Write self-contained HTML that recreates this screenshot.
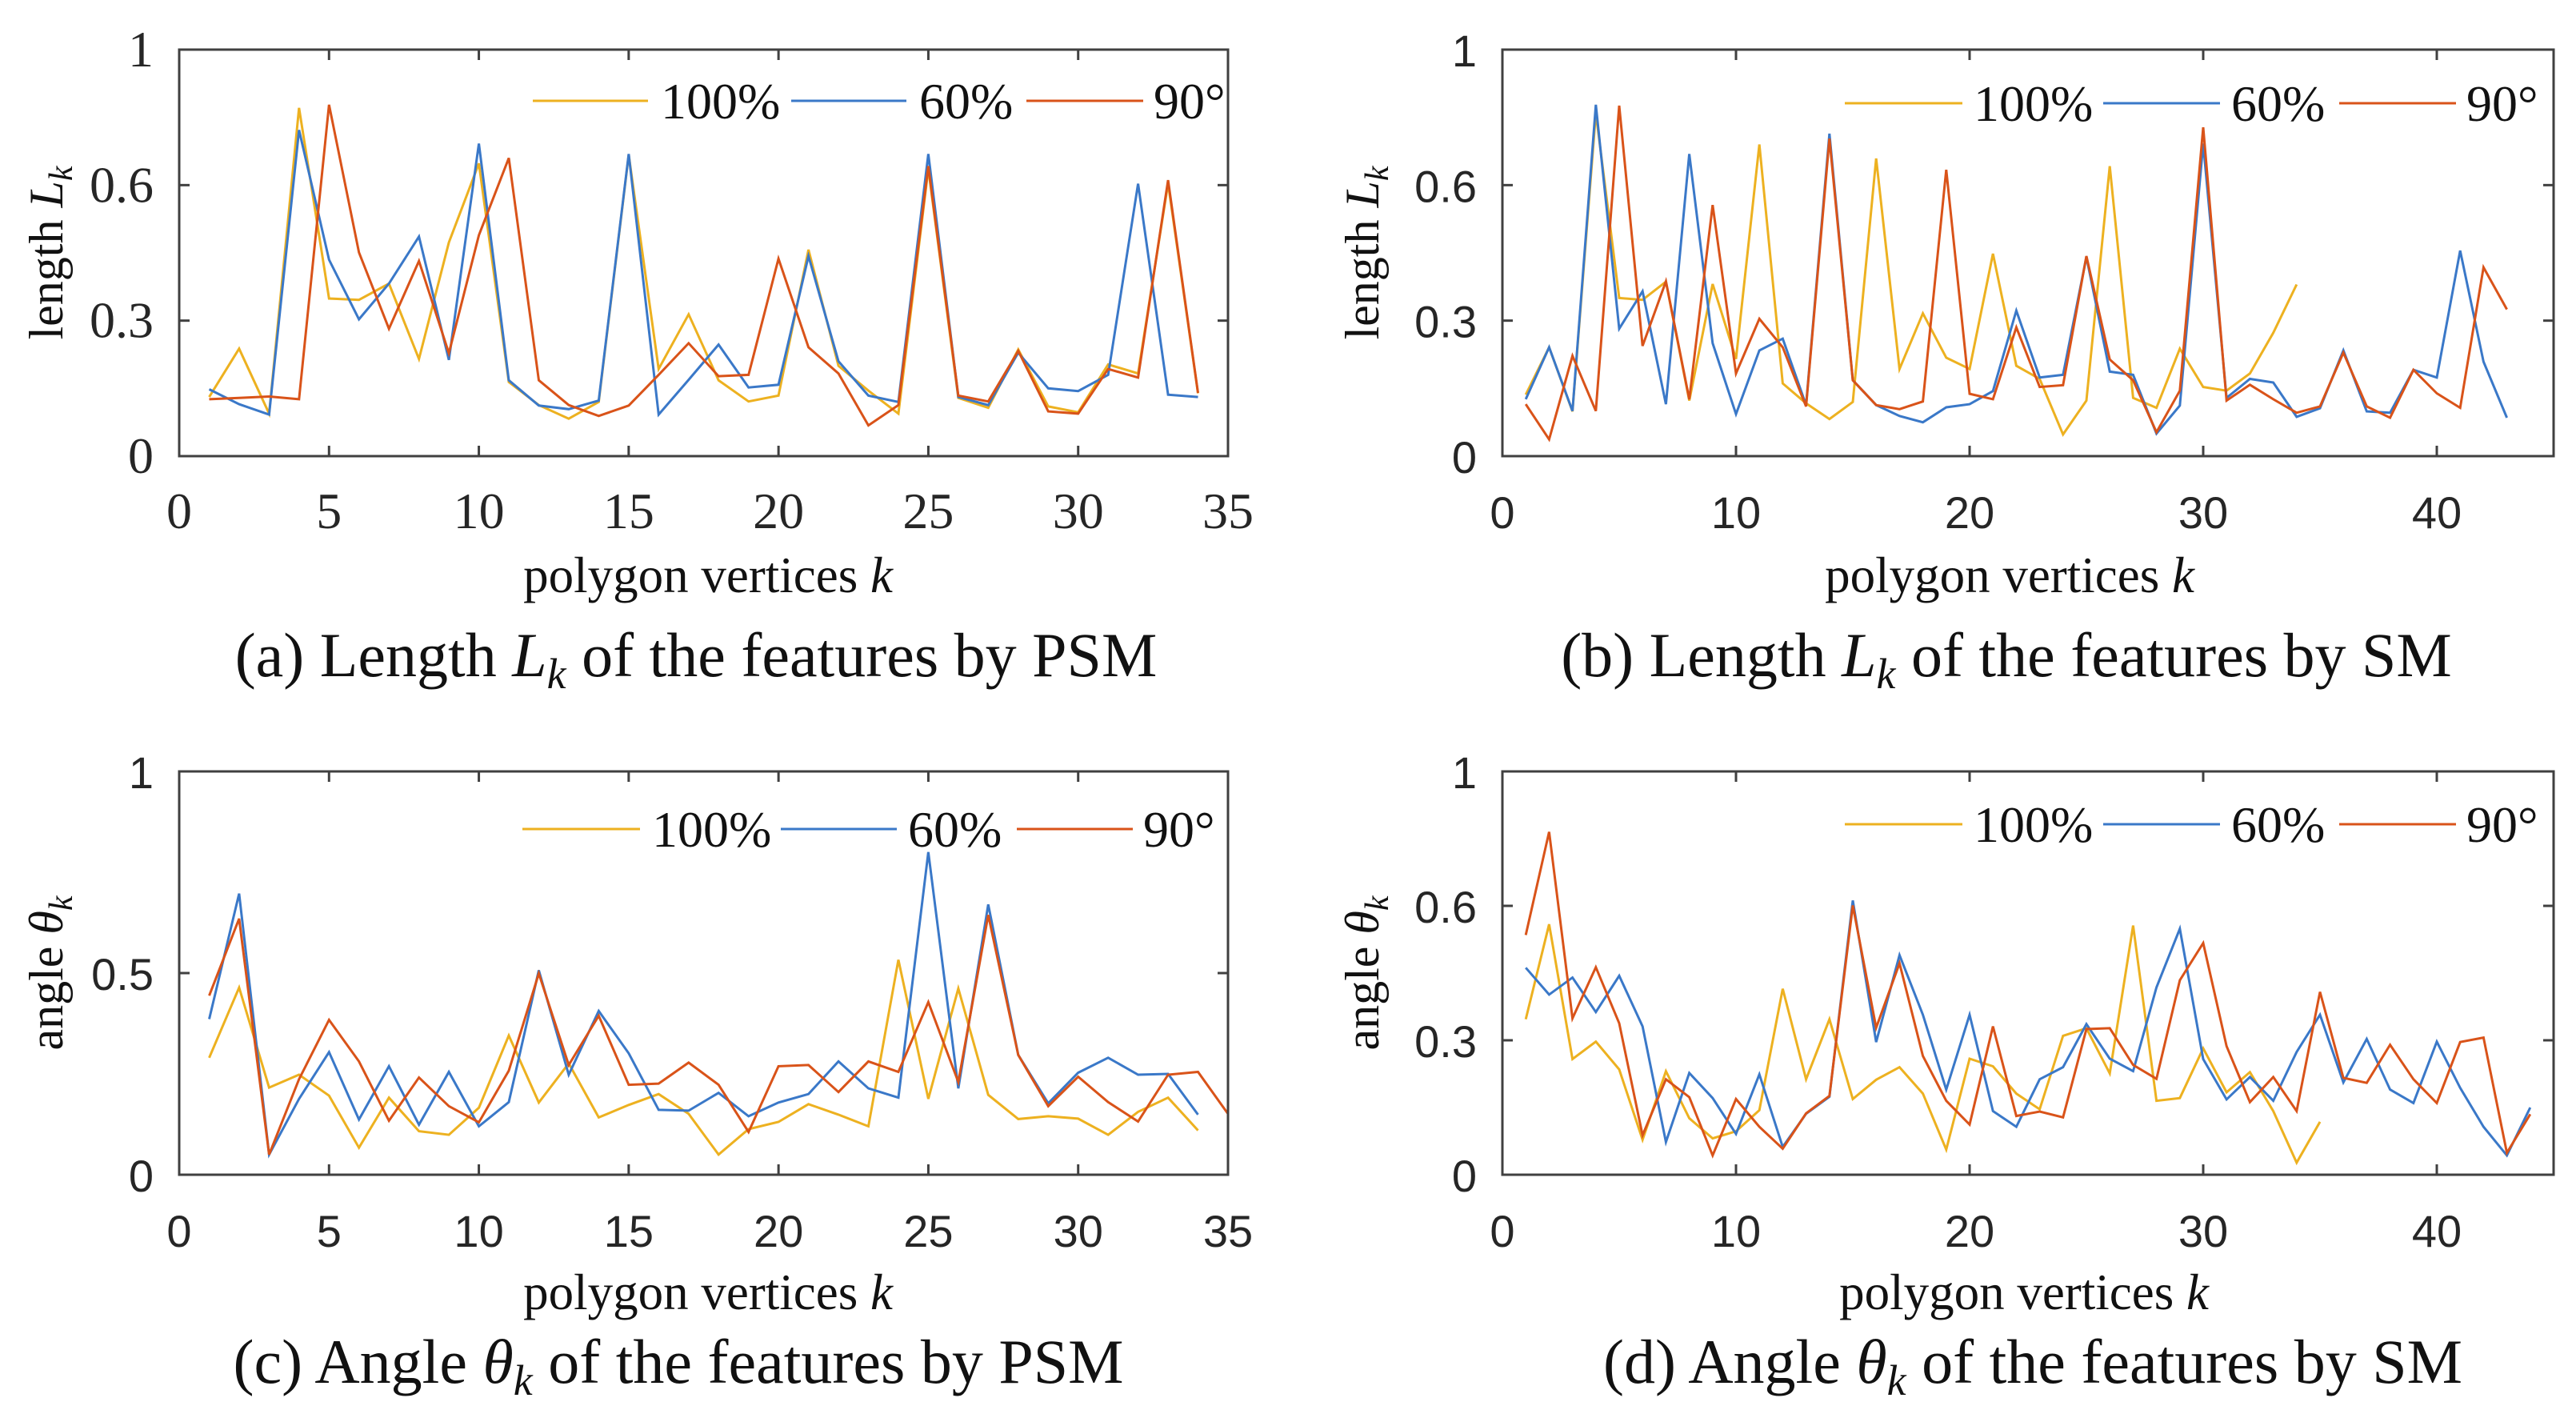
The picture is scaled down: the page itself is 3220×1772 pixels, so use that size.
<!DOCTYPE html>
<html><head><meta charset="utf-8">
<style>
html,body{margin:0;padding:0;background:#fff;}
svg{display:block;}
</style></head>
<body>
<svg id="fig" width="3220" height="1772" viewBox="0 0 3220 1772" xmlns="http://www.w3.org/2000/svg"></svg>
<script>
// ---- Panel (a): length by PSM ----
const aOrange=[0.131,0.238,0.094,0.771,0.349,0.346,0.382,0.215,0.473,0.648,0.164,0.113,0.083,0.12,0.667,0.193,0.314,0.168,0.121,0.134,0.457,0.2,0.145,0.094,0.636,0.129,0.107,0.236,0.11,0.097,0.203,0.183,0.604,0.139];
const aBlue=[0.148,0.115,0.092,0.722,0.435,0.303,0.382,0.486,0.213,0.692,0.168,0.112,0.104,0.123,0.669,0.092,0.169,0.247,0.152,0.158,0.443,0.21,0.134,0.12,0.669,0.131,0.113,0.229,0.15,0.144,0.18,0.603,0.136,0.131];
const aRed=[0.126,0.129,0.132,0.126,0.778,0.451,0.282,0.432,0.228,0.489,0.66,0.168,0.113,0.089,0.112,0.18,0.25,0.177,0.18,0.437,0.241,0.183,0.068,0.113,0.642,0.134,0.121,0.233,0.099,0.094,0.193,0.174,0.611,0.14];
// ---- Panel (b): length by SM ----
const bOrange=[0.136,0.241,0.099,0.76,0.35,0.346,0.386,0.123,0.381,0.215,0.69,0.161,0.117,0.082,0.12,0.659,0.193,0.316,0.218,0.193,0.448,0.2,0.171,0.048,0.123,0.642,0.129,0.107,0.238,0.153,0.145,0.183,0.273,0.38];
const bBlue=[0.126,0.241,0.1,0.778,0.282,0.365,0.115,0.669,0.25,0.093,0.234,0.26,0.113,0.714,0.168,0.113,0.089,0.075,0.108,0.115,0.144,0.322,0.174,0.18,0.441,0.187,0.18,0.05,0.112,0.692,0.129,0.171,0.163,0.087,0.106,0.234,0.099,0.096,0.191,0.174,0.455,0.209,0.085];
const bRed=[0.115,0.037,0.222,0.1,0.776,0.244,0.387,0.126,0.556,0.183,0.304,0.241,0.11,0.703,0.168,0.113,0.104,0.121,0.634,0.138,0.126,0.285,0.153,0.157,0.443,0.214,0.168,0.053,0.145,0.728,0.123,0.158,0.126,0.096,0.11,0.229,0.11,0.085,0.191,0.139,0.107,0.418,0.325];
// ---- Panel (c): angle by PSM ----
const cOrange=[0.29,0.464,0.216,0.248,0.196,0.067,0.191,0.108,0.099,0.166,0.345,0.179,0.276,0.142,0.173,0.2,0.151,0.05,0.113,0.131,0.175,0.149,0.12,0.533,0.188,0.462,0.198,0.138,0.145,0.139,0.099,0.156,0.191,0.11];
const cBlue=[0.386,0.697,0.05,0.188,0.304,0.137,0.269,0.124,0.255,0.12,0.18,0.507,0.248,0.406,0.301,0.161,0.159,0.203,0.145,0.179,0.2,0.281,0.214,0.191,0.8,0.214,0.67,0.297,0.177,0.253,0.29,0.248,0.25,0.149];
const cRed=[0.444,0.635,0.05,0.237,0.384,0.281,0.134,0.241,0.17,0.13,0.258,0.499,0.272,0.394,0.223,0.226,0.278,0.223,0.106,0.269,0.272,0.205,0.281,0.255,0.428,0.23,0.644,0.297,0.17,0.243,0.18,0.132,0.248,0.255,0.151];
// ---- Panel (d): angle by SM ----
const dOrange=[0.347,0.559,0.258,0.297,0.235,0.078,0.231,0.126,0.081,0.097,0.144,0.415,0.213,0.347,0.169,0.212,0.24,0.181,0.056,0.259,0.242,0.181,0.146,0.31,0.327,0.226,0.556,0.165,0.171,0.282,0.184,0.229,0.142,0.027,0.118];
const dBlue=[0.462,0.402,0.44,0.363,0.444,0.331,0.073,0.227,0.171,0.091,0.224,0.062,0.136,0.174,0.612,0.296,0.49,0.357,0.19,0.357,0.142,0.107,0.213,0.24,0.336,0.259,0.231,0.418,0.549,0.258,0.168,0.218,0.165,0.274,0.357,0.206,0.303,0.19,0.16,0.297,0.194,0.107,0.043,0.15];
const dRed=[0.535,0.765,0.349,0.463,0.338,0.088,0.213,0.173,0.043,0.169,0.107,0.058,0.137,0.176,0.601,0.328,0.472,0.265,0.165,0.112,0.331,0.131,0.141,0.128,0.325,0.327,0.245,0.214,0.434,0.517,0.287,0.162,0.218,0.142,0.408,0.216,0.205,0.29,0.213,0.16,0.296,0.306,0.049,0.135];
const seriesNames=["100%","60%","90°"];
const xTicksPSM=[0,5,10,15,20,25,30,35];
const xTicksSM=[0,10,20,30,40];
const yTicksLen=[0,0.3,0.6,0.9];
const yTickLabelsLen=["0","0.3","0.6","1"];
const yTicksAng=[0,0.5,1];
const yTickLabelsAng=["0","0.5","1"];

const NS="http://www.w3.org/2000/svg";
const svg=document.getElementById('fig');
const COLORS=["#EDB120","#3A78C8","#D95319"];
const SERIF="font-family:'Liberation Serif',serif;";
const SANS="font-family:'Liberation Sans',sans-serif;";
function mk(tag,attrs,parent){const e=document.createElementNS(NS,tag);for(const k in attrs)e.setAttribute(k,attrs[k]);(parent||svg).appendChild(e);return e;}

const panels=[
 {id:'a',L:224,R:1535,T:62,B:570,xmax:35,ymax:0.9,xt:xTicksPSM,yt:yTicksLen,ytl:yTickLabelsLen,font:'serif',data:[aOrange,aBlue,aRed],
  ylab:['length ','L'],ylx:60,xlx:885,xly:740,cap:['(a) Length ','L',' of the features by PSM'],capx:870,capy:845,
  leg:{y:126,o:[666,810,826],b:[989,1133,1149],r:[1283,1429,1442]}},
 {id:'b',L:1878,R:3192,T:62,B:570,xmax:45,ymax:0.9,xt:xTicksSM,yt:yTicksLen,ytl:yTickLabelsLen,font:'sans',data:[bOrange,bBlue,bRed],
  ylab:['length ','L'],ylx:1705,xlx:2512,xly:740,cap:['(b) Length ','L',' of the features by SM'],capx:2508,capy:845,
  leg:{y:129,o:[2306,2453,2467],b:[2629,2775,2789],r:[2924,3070,3083]}},
 {id:'c',L:224,R:1535,T:964,B:1468,xmax:35,ymax:1,xt:xTicksPSM,yt:yTicksAng,ytl:yTickLabelsAng,font:'sans',data:[cOrange,cBlue,cRed],
  ylab:['angle ','θ'],ylx:60,xlx:885,xly:1636,cap:['(c) Angle ','θ',' of the features by PSM'],capx:848,capy:1728,
  leg:{y:1036,o:[653,800,815],b:[976,1121,1135],r:[1271,1416,1429]}},
 {id:'d',L:1878,R:3192,T:964,B:1468,xmax:45,ymax:0.9,xt:xTicksSM,yt:yTicksLen,ytl:yTickLabelsLen,font:'sans',data:[dOrange,dBlue,dRed],
  ylab:['angle ','θ'],ylx:1705,xlx:2530,xly:1636,cap:['(d) Angle ','θ',' of the features by SM'],capx:2541,capy:1728,
  leg:{y:1030,o:[2306,2453,2467],b:[2629,2775,2789],r:[2924,3070,3083]}}
];

panels.forEach(p=>{
  const g=mk('g',{});
  
  
  const xs=v=>p.L+(v/p.xmax)*(p.R-p.L);
  const ys=v=>p.B-(v/p.ymax)*(p.B-p.T);
  const tickFont=p.font==='serif'?SERIF:SANS;
  const tfs=p.font==='serif'?64:56;
  p.data.forEach((arr,si)=>{
    const pts=arr.map((v,i)=>xs(i+1).toFixed(1)+','+ys(v).toFixed(1)).join(' ');
    const pl=mk('polyline',{points:pts,fill:'none',stroke:COLORS[si],'stroke-width':3},g);
    
    
  });
  const box=mk('rect',{x:p.L,y:p.T,width:p.R-p.L,height:p.B-p.T,fill:'none',stroke:'#404040','stroke-width':3},g);
  
  
  p.xt.forEach(t=>{
    const x=xs(t);
    mk('line',{x1:x,y1:p.B,x2:x,y2:p.B-13,stroke:'#404040','stroke-width':3},g);
    mk('line',{x1:x,y1:p.T,x2:x,y2:p.T+13,stroke:'#404040','stroke-width':3},g);
    const tx=mk('text',{x:x,y:p.B+90,'text-anchor':'middle',style:tickFont+'font-size:'+tfs+'px;fill:#262626;'},g);
    tx.textContent=t;
    
    
  });
  p.yt.forEach((t,i)=>{
    const y=ys(t);
    mk('line',{x1:p.L,y1:y,x2:p.L+13,y2:y,stroke:'#404040','stroke-width':3},g);
    mk('line',{x1:p.R,y1:y,x2:p.R-13,y2:y,stroke:'#404040','stroke-width':3},g);
    const tx=mk('text',{x:p.L-32,y:y+21,'text-anchor':'end',style:tickFont+'font-size:'+tfs+'px;fill:#262626;'},g);
    tx.textContent=p.ytl[i];
    
    
  });
  const cy=(p.T+p.B)/2;
  const yl=mk('text',{x:0,y:0,transform:`translate(${p.ylx+18},${cy}) rotate(-90)`,'text-anchor':'middle',style:SERIF+'font-size:60px;fill:#111;'},g);
  
  
  yl.appendChild(document.createTextNode(p.ylab[0]));
  const ti=mk('tspan',{'font-style':'italic'},yl);ti.textContent=p.ylab[1];
  const ts=mk('tspan',{'font-style':'italic','font-size':42,dy:12},yl);ts.textContent='k';
  const xl=mk('text',{x:p.xlx,y:p.xly,'text-anchor':'middle',style:SERIF+'font-size:63px;fill:#111;'},g);
  
  
  xl.appendChild(document.createTextNode('polygon vertices '));
  const xk=mk('tspan',{'font-style':'italic'},xl);xk.textContent='k';
  const cp=mk('text',{x:p.capx,y:p.capy,'text-anchor':'middle',style:SERIF+'font-size:78px;fill:#111;'},g);
  
  
  cp.appendChild(document.createTextNode(p.cap[0]));
  const c1=mk('tspan',{'font-style':'italic'},cp);c1.textContent=p.cap[1];
  const c2=mk('tspan',{'font-style':'italic','font-size':54,dy:15},cp);c2.textContent='k';
  const c3=mk('tspan',{dy:-15},cp);c3.textContent=p.cap[2];
  const lg=mk('g',{},g);
  
  
  [p.leg.o,p.leg.b,p.leg.r].forEach((e,si)=>{
    const ln=mk('line',{x1:e[0],y1:p.leg.y,x2:e[1],y2:p.leg.y,stroke:COLORS[si],'stroke-width':3},lg);
    
    
    const lt=mk('text',{x:e[2],y:p.leg.y+22,style:SERIF+'font-size:64px;fill:#111;'},lg);
    lt.textContent=seriesNames[si];
    
    
  });
});
</script>
</body></html>
